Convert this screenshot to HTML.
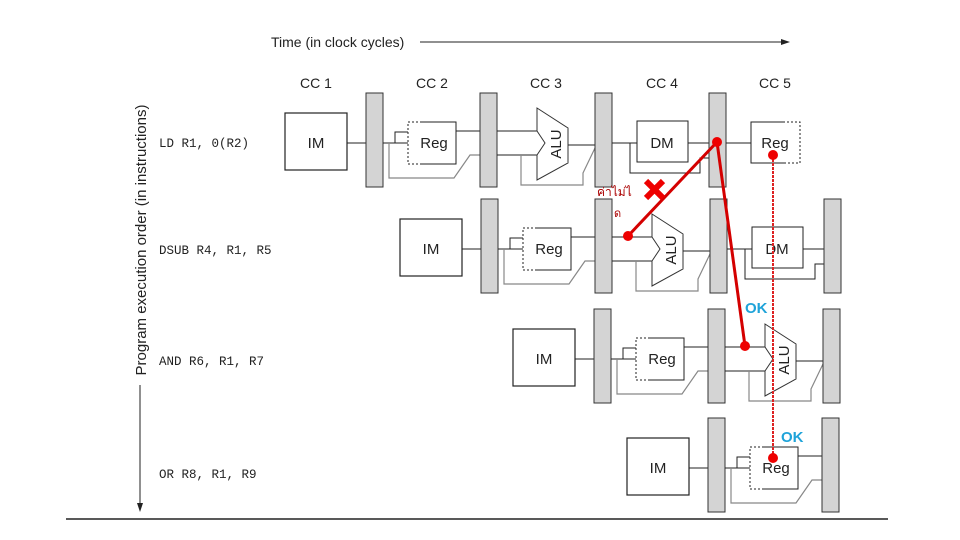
<!DOCTYPE html>
<html><head><meta charset="utf-8"><style>
html,body{margin:0;padding:0;background:#fff;}
svg{display:block;}
.t{font-family:"Liberation Sans",sans-serif;fill:#222;}
.m{font-family:"Liberation Mono",monospace;font-size:12.5px;fill:#222;}
</style></head><body>
<svg width="960" height="540" viewBox="0 0 960 540" xmlns="http://www.w3.org/2000/svg">
<defs>
<g id="im"><rect x="0" y="20" width="62" height="57" fill="#fff" stroke="#222" stroke-width="1.2"/>
<text class="t" x="31" y="55" font-size="15" text-anchor="middle">IM</text>
<line x1="62" y1="50" x2="81" y2="50" stroke="#222"/>
<rect x="81" y="0" width="17" height="94" fill="#d4d4d4" stroke="#333"/></g>
<g id="reg">
<line x1="98" y1="50" x2="123" y2="50" stroke="#222"/>
<polyline points="110,50 110,39 123,39" fill="none" stroke="#222"/>
<polyline points="104,50 104,85 169,85 185,62 195,62" fill="none" stroke="#888" stroke-width="1.2"/>
<rect x="123" y="29" width="48" height="42" fill="#fff" stroke="#222" stroke-dasharray="2,2"/>
<polyline points="137,29 171,29 171,71 137,71" fill="none" stroke="#222"/>
<text class="t" x="149" y="55" font-size="15" text-anchor="middle">Reg</text>
<line x1="171" y1="38" x2="195" y2="38" stroke="#222"/>
<rect x="195" y="0" width="17" height="94" fill="#d4d4d4" stroke="#333"/></g>
<g id="alu">
<line x1="212" y1="38" x2="252" y2="38" stroke="#222"/>
<line x1="212" y1="62" x2="252" y2="62" stroke="#222"/>
<polyline points="236,62 236,92 298,92 298,80 310,55" fill="none" stroke="#888" stroke-width="1.2"/>
<polygon points="252,15 283,35 283,70 252,87 252,62 260,50 252,38" fill="#fff" stroke="#333"/>
<line x1="283" y1="35" x2="283" y2="70" stroke="#999" stroke-width="2"/>
<text class="t" x="0" y="0" font-size="15" text-anchor="middle" transform="translate(276,51) rotate(-90)">ALU</text>
<line x1="283" y1="52" x2="310" y2="52" stroke="#222"/>
<rect x="310" y="0" width="17" height="94" fill="#d4d4d4" stroke="#333"/></g>
<g id="dm">
<line x1="327" y1="50" x2="352" y2="50" stroke="#222"/>
<polyline points="345,50 345,80 415,80 415,65 424,65" fill="none" stroke="#222"/>
<rect x="352" y="28" width="51" height="41" fill="#fff" stroke="#222"/>
<text class="t" x="377" y="55" font-size="15" text-anchor="middle">DM</text>
<line x1="403" y1="50" x2="424" y2="50" stroke="#222"/>
<rect x="424" y="0" width="17" height="94" fill="#d4d4d4" stroke="#333"/></g>
</defs>

<text class="t" x="271" y="47" font-size="14">Time (in clock cycles)</text>
<line x1="420" y1="42" x2="784" y2="42" stroke="#222"/>
<polygon points="790,42 781,39 781,45" fill="#222"/>
<text class="t" x="316" y="88" font-size="14" text-anchor="middle">CC 1</text>
<text class="t" x="432" y="88" font-size="14" text-anchor="middle">CC 2</text>
<text class="t" x="546" y="88" font-size="14" text-anchor="middle">CC 3</text>
<text class="t" x="662" y="88" font-size="14" text-anchor="middle">CC 4</text>
<text class="t" x="775" y="88" font-size="14" text-anchor="middle">CC 5</text>

<text class="t" font-size="15" text-anchor="middle" transform="translate(146,240) rotate(-90)">Program execution order (in instructions)</text>
<line x1="140" y1="385" x2="140" y2="506" stroke="#222"/>
<polygon points="140,512 137,503 143,503" fill="#222"/>

<text class="m" x="159" y="147">LD R1, 0(R2)</text>
<text class="m" x="159" y="254">DSUB R4, R1, R5</text>
<text class="m" x="159" y="365">AND R6, R1, R7</text>
<text class="m" x="159" y="478">OR R8, R1, R9</text>

<g transform="translate(285,93)">
<use href="#im"/><use href="#reg"/><use href="#alu"/><use href="#dm"/>
<line x1="441" y1="50" x2="466" y2="50" stroke="#222"/>
<rect x="466" y="29" width="49" height="41" fill="#fff" stroke="#222" stroke-dasharray="2,2"/>
<polyline points="500,29 466,29 466,70 500,70" fill="none" stroke="#222"/>
<text class="t" x="490" y="55" font-size="15" text-anchor="middle">Reg</text>
</g>
<g transform="translate(400,199)">
<use href="#im"/><use href="#reg"/><use href="#alu"/><use href="#dm"/>
</g>
<g transform="translate(513,309)">
<use href="#im"/><use href="#reg"/><use href="#alu"/>
</g>
<g transform="translate(627,418)">
<use href="#im"/><use href="#reg"/>
</g>

<line x1="66" y1="519" x2="888" y2="519" stroke="#222" stroke-width="1.5"/>

<line x1="628" y1="236" x2="717" y2="142" stroke="#d40000" stroke-width="3"/>
<line x1="717" y1="142" x2="745" y2="346" stroke="#d40000" stroke-width="3"/>
<line x1="773" y1="155" x2="773" y2="458" stroke="#d22" stroke-width="2" stroke-dasharray="3,1"/>
<circle cx="628" cy="236" r="5" fill="#e00"/>
<circle cx="717" cy="142" r="5" fill="#e00"/>
<circle cx="745" cy="346" r="5" fill="#e00"/>
<circle cx="773" cy="155" r="5" fill="#e00"/>
<circle cx="773" cy="458" r="5" fill="#e00"/>
<line x1="646" y1="181" x2="663" y2="198" stroke="#e00" stroke-width="6"/>
<line x1="663" y1="181" x2="646" y2="198" stroke="#e00" stroke-width="6"/>
<text x="597" y="196" font-size="12" fill="#a00" font-family="'Liberation Sans','DejaVu Sans',sans-serif">ค่าไม่ไ</text>
<text x="614" y="217" font-size="11" fill="#a00" font-family="'Liberation Sans','DejaVu Sans',sans-serif">ด</text>
<text x="745" y="313" font-size="15" font-weight="bold" fill="#1fa3d9" font-family="'Liberation Sans',sans-serif">OK</text>
<text x="781" y="442" font-size="15" font-weight="bold" fill="#1fa3d9" font-family="'Liberation Sans',sans-serif">OK</text>
</svg>
</body></html>
